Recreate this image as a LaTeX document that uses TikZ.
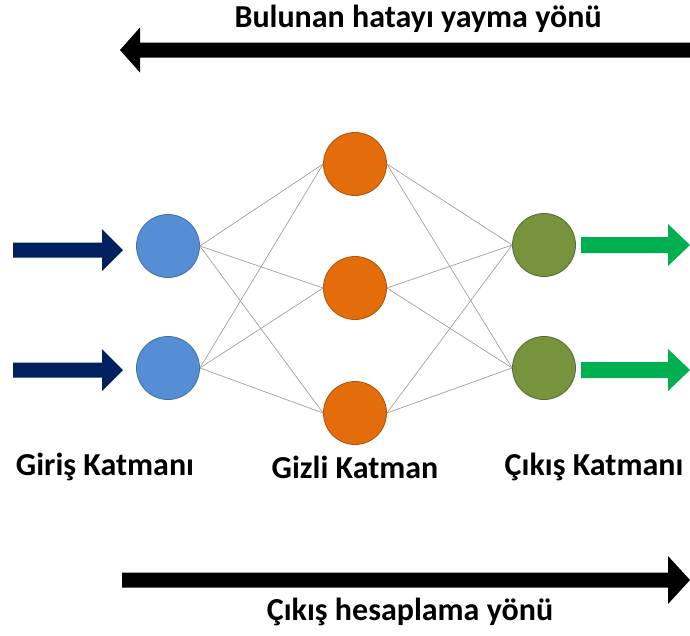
\documentclass[tikz,border=0pt]{standalone}
\usepackage{fontspec}
\setmainfont{Carlito}
\definecolor{inblue}{HTML}{558ED5}
\definecolor{inblueedge}{HTML}{41709C}
\definecolor{hidorange}{HTML}{E46C0A}
\definecolor{hidorangeedge}{HTML}{A9530C}
\definecolor{outgreen}{HTML}{77933C}
\definecolor{outgreenedge}{HTML}{55692B}
\definecolor{navyarrow}{HTML}{002060}
\definecolor{greenarrow}{HTML}{00B050}
\definecolor{wire}{HTML}{A0A0A0}
% block arrow: colour, tail x, head base x, tip x, centre y, shaft half width, head half width
\newcommand{\blkarrow}[7]{%
  \fill[#1] (#2,#5-#6) -- (#3,#5-#6) -- (#3,#5-#7) -- (#4,#5)
    -- (#3,#5+#7) -- (#3,#5+#6) -- (#2,#5+#6) -- cycle;}
\begin{document}
\begin{tikzpicture}[x=1pt,y=-1pt,
  neuron/.style={circle,minimum size=63pt,inner sep=0pt,line width=0.8pt},
  inneuron/.style={neuron,fill=inblue,draw=inblueedge},
  hidneuron/.style={neuron,fill=hidorange,draw=hidorangeedge},
  outneuron/.style={neuron,fill=outgreen,draw=outgreenedge},
  link/.style={draw=wire,line width=0.7pt},
  caption/.style={font=\bfseries\fontsize{32}{36}\selectfont,inner sep=0pt}]
\useasboundingbox (0,0) rectangle (690,635);

% direction arrows
\blkarrow{black}{690}{140}{120}{50}{7.5}{22.5}
\blkarrow{black}{122}{668}{690}{580}{7.5}{24}
\node[caption] (backtxt) at (418,19) {Bulunan hatayı yayma yönü};
\node[caption] (fwdtxt) at (410,612) {Çıkış hesaplama yönü};

% neurons
\node[inneuron] (i1) at (168,246) {};
\node[inneuron] (i2) at (168,368) {};
\node[hidneuron] (h1) at (355,164) {};
\node[hidneuron] (h2) at (355,288) {};
\node[hidneuron] (h3) at (355,413) {};
\node[outneuron] (o1) at (544,245) {};
\node[outneuron] (o2) at (544,368) {};

% connections
\foreach \a in {i1,i2}
  \foreach \b in {h1,h2,h3}
    \draw[link] (\a.east) -- (\b.west);
\foreach \a in {h1,h2,h3}
  \foreach \b in {o1,o2}
    \draw[link] (\a.east) -- (\b.west);

% input and output arrows
\blkarrow{navyarrow}{13}{102}{123}{250}{7.5}{21}
\blkarrow{navyarrow}{13}{102}{123}{370}{7.5}{21}
\blkarrow{greenarrow}{581}{668}{690}{245}{8}{21}
\blkarrow{greenarrow}{581}{668}{690}{370}{8}{21}

% layer labels
\node[caption] (lin) at (105,467) {Giriş Katmanı};
\node[caption] (lhid) at (355,467) {Gizli Katman};
\node[caption] (lout) at (594,467) {Çıkış Katmanı};
\end{tikzpicture}
\end{document}
